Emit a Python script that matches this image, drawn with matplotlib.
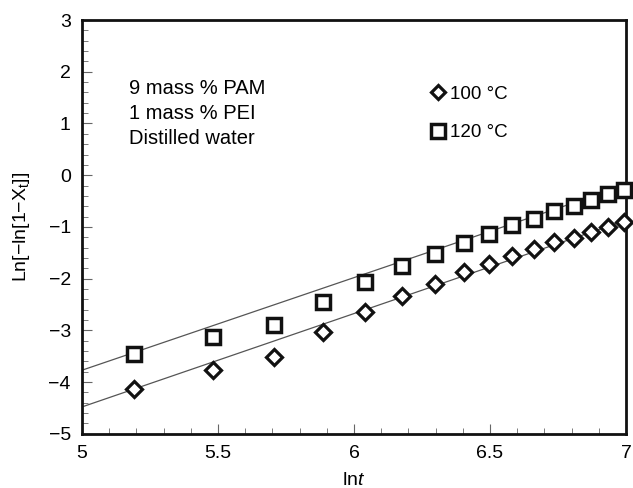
import matplotlib
matplotlib.use("Agg")
import matplotlib.pyplot as plt
from matplotlib.ticker import MultipleLocator
from matplotlib.lines import Line2D
import numpy as np

plt.rcParams['font.family'] = ['Liberation Sans', 'DejaVu Sans']
plt.rcParams['mathtext.fontset'] = 'custom'
plt.rcParams['mathtext.rm'] = 'Liberation Sans'
plt.rcParams['mathtext.it'] = 'Liberation Sans:italic'

# Data
x_100 = [5.19, 5.48, 5.706, 5.887, 6.04, 6.176, 6.296, 6.403, 6.496, 6.58,
         6.66, 6.737, 6.81, 6.872, 6.934, 6.993]
y_100 = [-4.14, -3.77, -3.51, -3.04, -2.64, -2.34, -2.10, -1.88, -1.71, -1.56,
         -1.42, -1.30, -1.21, -1.10, -1.00, -0.91]
x_120 = [5.193, 5.48, 5.706, 5.887, 6.04, 6.176, 6.296, 6.403, 6.496, 6.58,
         6.66, 6.737, 6.81, 6.872, 6.934, 6.993]
y_120 = [-3.45, -3.13, -2.89, -2.46, -2.06, -1.75, -1.53, -1.32, -1.135, -0.97,
         -0.85, -0.69, -0.59, -0.48, -0.37, -0.28]
# fitted lines: [intercept at x=5, slope]
fit_100 = [-4.48, 1.805]
fit_120 = [-3.77, 1.79]
line_x = [5.0, 7.0]
labels = ["100 °C", "120 °C"]
note = "9 mass % PAM\n1 mass % PEI\nDistilled water"

fig = plt.figure(figsize=(6.33, 4.88), dpi=100)
ax = fig.add_axes([0.1295, 0.111, 0.8595, 0.848])

lx = np.array(line_x)
ax.plot(lx, fit_100[0] + fit_100[1] * (lx - 5), color='#555555', lw=0.9, zorder=1)
ax.plot(lx, fit_120[0] + fit_120[1] * (lx - 5), color='#555555', lw=0.9, zorder=1)

ax.plot(x_100, y_100, linestyle='none', marker='D', markersize=8,
        markerfacecolor='white', markeredgecolor='#111111', markeredgewidth=2.3,
        zorder=3, clip_on=False)
ax.plot(x_120, y_120, linestyle='none', marker='s', markersize=10.5,
        markerfacecolor='white', markeredgecolor='#111111', markeredgewidth=2.5,
        zorder=3, clip_on=False)

ax.set_xlim(5, 7)
ax.set_ylim(-5, 3)
ax.xaxis.set_major_locator(MultipleLocator(0.5))
ax.xaxis.set_minor_locator(MultipleLocator(0.1))
ax.yaxis.set_major_locator(MultipleLocator(1))
ax.yaxis.set_minor_locator(MultipleLocator(0.2))
ax.xaxis.set_major_formatter(plt.FuncFormatter(lambda v, p: f"{v:g}"))
ax.yaxis.set_major_formatter(plt.FuncFormatter(lambda v, p: f"{v:g}".replace('-', '\u2212')))
ax.tick_params(which='both', direction='in', labelsize=14, color='#666666')
ax.tick_params(which='major', length=7, width=0.8)
ax.tick_params(axis='x', which='major', pad=8)
ax.tick_params(axis='y', which='major', pad=8)
ax.tick_params(which='minor', length=4, width=0.6)
for s in ax.spines.values():
    s.set_linewidth(2.0)
    s.set_color('#111111')

ax.set_xlabel(r"ln$\mathit{t}$", fontsize=14, labelpad=7)
ax.set_ylabel(r"Ln[−ln[1−X$_\mathrm{t}$]]", fontsize=14, labelpad=12)

ax.text(0.087, 0.858, note, transform=ax.transAxes, fontsize=14.5, va='top',
        ha='left', linespacing=1.42)

handles = [
    Line2D([], [], linestyle='none', marker='D', markersize=7.5, markerfacecolor='white',
           markeredgecolor='#111111', markeredgewidth=2.3),
    Line2D([], [], linestyle='none', marker='s', markersize=10, markerfacecolor='white',
           markeredgecolor='#111111', markeredgewidth=2.5),
]
ax.legend(handles, labels, loc='upper left', bbox_to_anchor=(0.626, 0.86),
          frameon=False, fontsize=13.5, handlelength=0.8, handletextpad=0.25,
          labelspacing=1.15, borderaxespad=0)

fig.savefig("out.png", dpi=100)
